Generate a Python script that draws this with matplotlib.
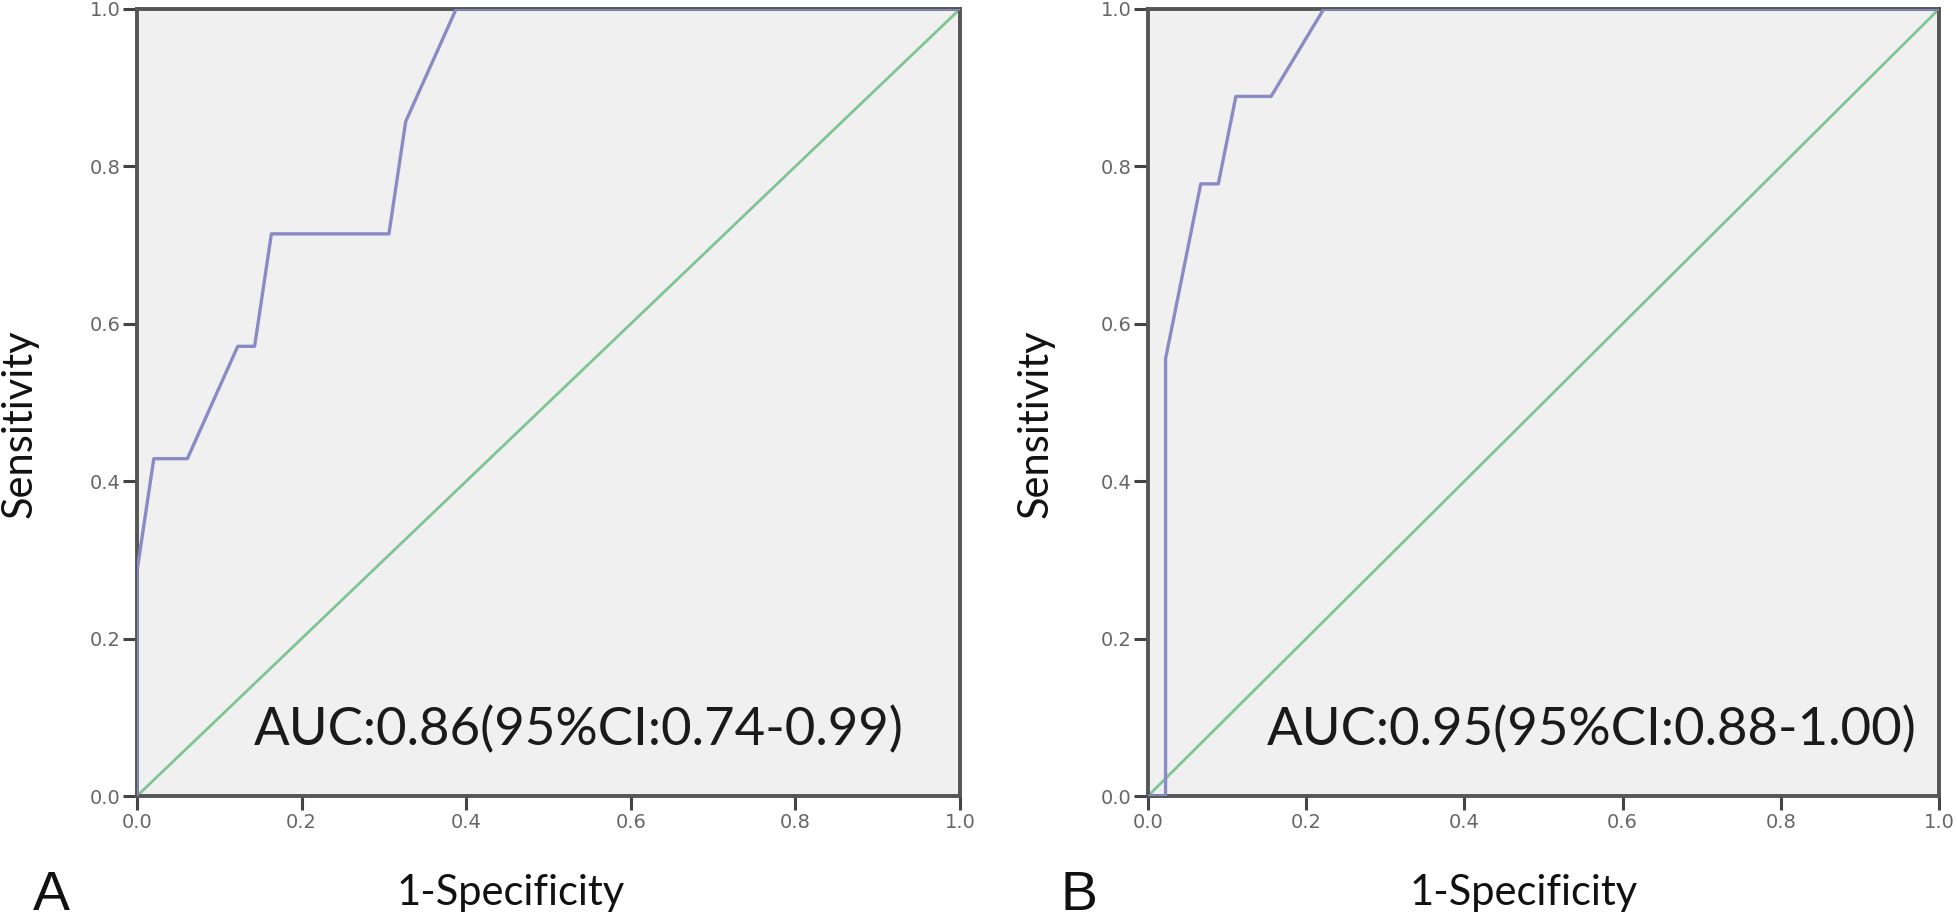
import matplotlib
matplotlib.use("Agg")
import matplotlib.pyplot as plt

# panel A: ROC points (1-specificity, sensitivity)
fpr_a = [0.0, 0.0, 0.0204, 0.0612, 0.1224, 0.1429, 0.1633, 0.3061, 0.3265, 0.3878, 1.0]
tpr_a = [0.0, 0.2857, 0.4286, 0.4286, 0.5714, 0.5714, 0.7143, 0.7143, 0.8571, 1.0, 1.0]
auc_a = "AUC:0.86(95%CI:0.74-0.99)"

# panel B
fpr_b = [0.0, 0.0222, 0.0222, 0.0667, 0.0889, 0.1111, 0.1556, 0.2222, 1.0]
tpr_b = [0.0, 0.0, 0.5556, 0.7778, 0.7778, 0.8889, 0.8889, 1.0, 1.0]
auc_b = "AUC:0.95(95%CI:0.88-1.00)"

ref_line = [0.0, 1.0]
ticks = [0.0, 0.2, 0.4, 0.6, 0.8, 1.0]
tick_labels = ["0.0", "0.2", "0.4", "0.6", "0.8", "1.0"]

W, H = 1958, 922
fig = plt.figure(figsize=(W / 100, H / 100), dpi=100)

label_font = ["Lato", "DejaVu Sans"]


def roc_panel(left_px, width_px, fpr, tpr, auc_text, auc_x):
    ax = fig.add_axes([left_px / W, (H - 796) / H, width_px / W, 787 / H])
    ax.set_facecolor("#f0f0f0")
    ax.plot(ref_line, ref_line, color="#7fc593", lw=2.0, zorder=2)
    ax.plot(fpr, tpr, color="#8a8ac4", lw=2.4, zorder=3)
    ax.set_xlim(0, 1)
    ax.set_ylim(0, 1)
    ax.set_xticks(ticks)
    ax.set_yticks(ticks)
    ax.set_xticklabels(tick_labels)
    ax.set_yticklabels(tick_labels)
    for s in ax.spines.values():
        s.set_color("#555555")
        s.set_linewidth(2.8)
    ax.tick_params(direction="out", length=10, width=2.2, color="#444444",
                   labelsize=14, labelcolor="#666666", pad=2)
    ax.text(auc_x, 0.065, auc_text, transform=ax.transAxes, ha="right", va="baseline",
            fontsize=38, family=["Liberation Sans Narrow", "Lato", "DejaVu Sans"],
            color="#1a1a1a", zorder=4)
    return ax


roc_panel(137, 823, fpr_a, tpr_a, auc_a, 0.932)
roc_panel(1148, 791, fpr_b, tpr_b, auc_b, 0.972)

# axis titles and panel letters
fig.text(20 / W, 1 - 424 / H, "Sensitivity", rotation=90, ha="center", va="center",
         fontsize=30, family=label_font, color="#111111")
fig.text(1036 / W, 1 - 424 / H, "Sensitivity", rotation=90, ha="center", va="center",
         fontsize=30, family=label_font, color="#111111")
fig.text(511 / W, 1 - 893 / H, "1-Specificity", ha="center", va="center",
         fontsize=30, family=label_font, color="#111111")
fig.text(1524 / W, 1 - 893 / H, "1-Specificity", ha="center", va="center",
         fontsize=30, family=label_font, color="#111111")
fig.text(51 / W, 1 - 896 / H, "A", ha="center", va="center",
         fontsize=40, family=["Liberation Sans", "DejaVu Sans"], color="#111111")
fig.text(1079 / W, 1 - 896 / H, "B", ha="center", va="center",
         fontsize=40, family=["Liberation Sans", "DejaVu Sans"], color="#111111")

fig.savefig("out.png", dpi=100, facecolor="white")
